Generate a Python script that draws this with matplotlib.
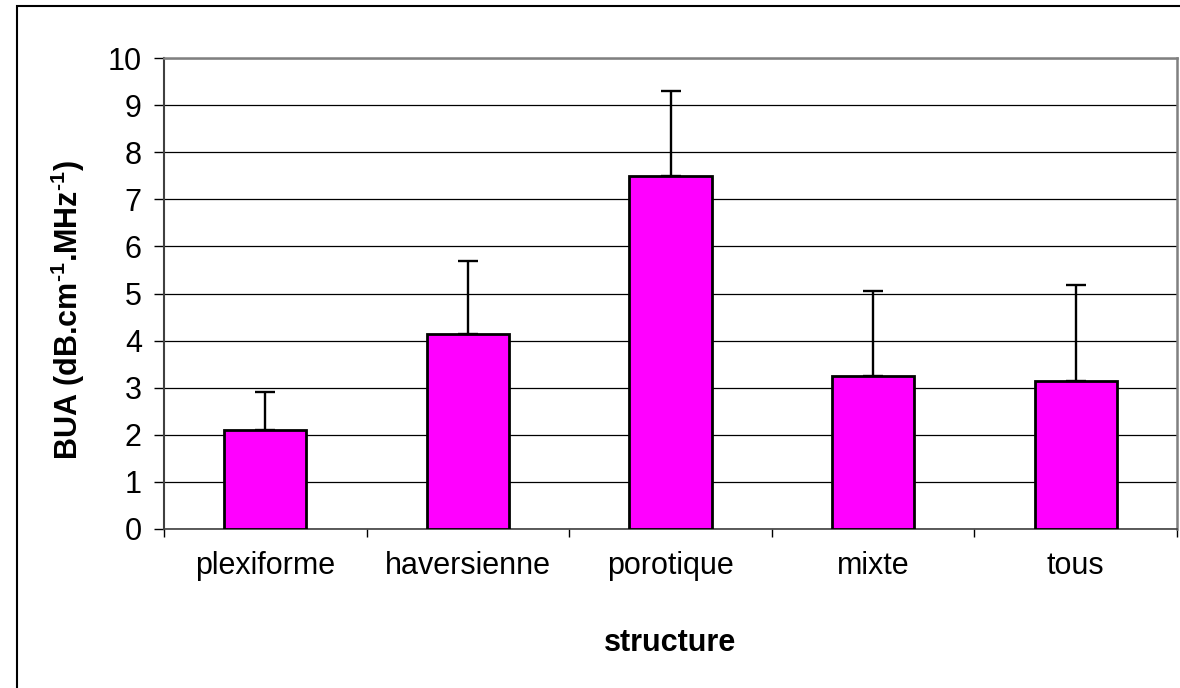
import matplotlib
matplotlib.use("Agg")
import matplotlib.pyplot as plt
from matplotlib.patches import Rectangle
import numpy as np

categories = ["plexiforme", "haversienne", "porotique", "mixte", "tous"]
means = [2.1, 4.15, 7.5, 3.25, 3.15]
errors_up = [0.8, 1.55, 1.8, 1.8, 2.02]
y_ticks = [0, 1, 2, 3, 4, 5, 6, 7, 8, 9, 10]

plt.rcParams['font.family'] = ['Liberation Sans', 'DejaVu Sans']
plt.rcParams['mathtext.fontset'] = 'custom'
plt.rcParams['mathtext.rm'] = 'Liberation Sans:bold'
plt.rcParams['mathtext.bf'] = 'Liberation Sans:bold'

W, H = 1180, 688
fig = plt.figure(figsize=(W / 100, H / 100), dpi=100)
fig.patch.set_facecolor('white')

# outer frame (only left/top visible in reference)
fig.add_artist(Rectangle((17 / W, -0.1), 1.2, (1 - 6 / H) + 0.1, transform=fig.transFigure,
                         fill=False, edgecolor='black', linewidth=1.5))

ax = fig.add_axes([164 / W, 1 - 529 / H, (1177 - 164) / W, (529 - 58) / H])
x = np.arange(len(categories))
ax.bar(x, means, width=0.405, color='#FF00FF', edgecolor='black', linewidth=2.0, zorder=3)
ax.errorbar(x, means, yerr=[np.zeros(len(means)), errors_up], fmt='none', ecolor='black',
            elinewidth=1.7, capsize=7, capthick=1.7, zorder=2)

ax.set_xlim(-0.5, len(categories) - 0.5)
ax.set_ylim(0, 10)
ax.set_yticks(y_ticks)
ax.tick_params(axis='y', direction='out', length=7, width=1, labelsize=22, pad=9)
ax.yaxis.grid(True, color='black', linewidth=0.9)
ax.set_axisbelow(True)

ax.set_xticks(np.arange(len(categories) + 1) - 0.5)
ax.set_xticklabels([])
ax.set_xticks(x, minor=True)
ax.set_xticklabels(categories, minor=True)
ax.tick_params(axis='x', which='major', direction='out', length=6, width=1)
ax.tick_params(axis='x', which='minor', length=0, labelsize=22, pad=16)

for s in ['top', 'right']:
    ax.spines[s].set_color('#808080')
    ax.spines[s].set_linewidth(1.8)
ax.spines['left'].set_color('#404040')
ax.spines['left'].set_linewidth(1.5)
ax.spines['bottom'].set_color('#404040')
ax.spines['bottom'].set_linewidth(1.2)

ax.set_ylabel(r'BUA (dB.cm$^{\text{-1}}$.MHz$^{\text{-1}}$)', fontsize=22, fontweight='bold')
ax.yaxis.set_label_coords(-0.076, 0.465)
ax.set_xlabel('structure', fontsize=22, fontweight='bold')
ax.xaxis.set_label_coords(0.5, -0.21)

fig.savefig('out.png', dpi=100)
